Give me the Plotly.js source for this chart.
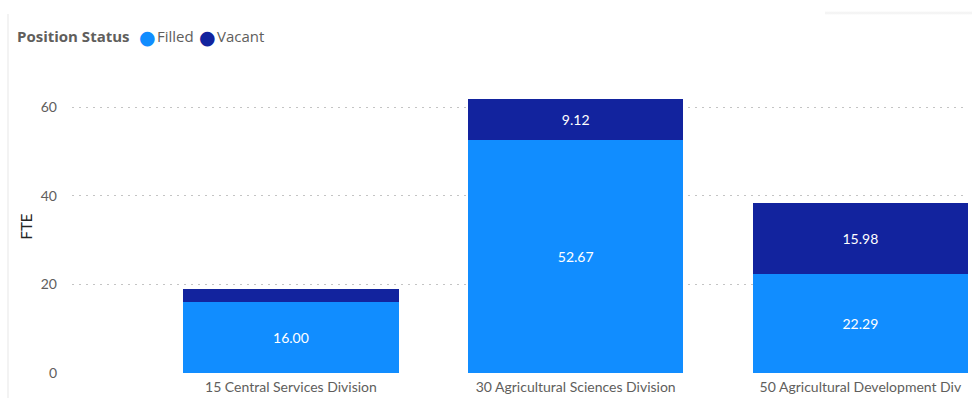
<!DOCTYPE html>
<html>
<head>
<meta charset="utf-8">
<script src="https://cdn.plot.ly/plotly-3.0.1.min.js"></script>
<style>
html,body{margin:0;padding:0;background:#fff;}
#wrap{position:relative;width:972px;height:398px;overflow:hidden;}
#edge{position:absolute;left:7px;top:14px;width:2px;height:384px;background:#f3f3f3;}
#topshadow{position:absolute;left:825px;top:11px;width:147px;height:4px;background:linear-gradient(#ffffff,#f1f1f1,#ffffff);}
#chart{position:absolute;left:0;top:0;width:972px;height:398px;}
</style>
</head>
<body>
<div id="wrap">
<div id="edge"></div>
<div id="topshadow"></div>
<div id="chart"></div>
</div>
<script>
const categories = ["15 Central Services Division", "30 Agricultural Sciences Division", "50 Agricultural Development Division"];
const tickLabels = ["15 Central Services Division", "30 Agricultural Sciences Division", "50 Agricultural Development Div"];
const filled = [16.00, 52.67, 22.29];
const vacant = [2.95, 9.12, 15.98];
const yTicks = [0, 20, 40, 60];
const seriesNames = ["Filled", "Vacant"];
const seriesColors = ["#118DFF", "#12239E"];
const legendTitle = "Position Status";

const FONT = "Segoe UI, Lato, 'Noto Sans', sans-serif";
const LFONT = "'Open Sans', " + FONT;
const fmt = v => v >= 5 ? v.toFixed(2) : "";

const traces = [filled, vacant].map((vals, i) => ({
  type:"bar", name:seriesNames[i], x:categories, y:vals,
  marker:{color:seriesColors[i]},
  text:vals.map(fmt), textposition:"inside", insidetextanchor:"middle",
  textfont:{color:"#ffffff", size:14, family:FONT}, showlegend:false, hoverinfo:"y"
}));

// legend drawn as text annotations (pixel positions converted to paper coords)
const L = 72, W = 896, B = 373, H = 293;
const px = x => (x - L) / W;
const py = y => (B - y) / H;
const legendY = 36;
const itemDotX = [147, 207];
const itemTextX = [155, 215];
const annotations = [{
  text:"<b>" + legendTitle + "</b>", xref:"paper", yref:"paper", x:px(15), y:py(legendY),
  xanchor:"left", yanchor:"middle", showarrow:false,
  font:{family:LFONT, size:15, color:"#605E5C"}
}];
seriesNames.forEach((n, i) => {
  annotations.push({
    text:"●", xref:"paper", yref:"paper", x:px(itemDotX[i]), y:py(legendY + 1),
    xanchor:"center", yanchor:"middle", showarrow:false,
    font:{family:"DejaVu Sans", size:19, color:seriesColors[i]}
  });
  annotations.push({
    text:n, xref:"paper", yref:"paper", x:px(itemTextX[i]), y:py(legendY),
    xanchor:"left", yanchor:"middle", showarrow:false,
    font:{family:LFONT, size:15, color:"#605E5C"}
  });
});

const layout = {
  width:972, height:398,
  margin:{l:L, r:4, t:80, b:25},
  paper_bgcolor:"rgba(0,0,0,0)", plot_bgcolor:"rgba(0,0,0,0)",
  barmode:"stack", bargap:0.243,
  font:{family:FONT, color:"#605E5C", size:13},
  xaxis:{type:"category", tickvals:categories, ticktext:tickLabels,
    range:[-0.769, 2.378], showgrid:false, zeroline:false, showline:false,
    ticks:"", ticklabelstandoff:4, tickfont:{size:14, color:"#605E5C"}, fixedrange:true},
  yaxis:{range:[0, 66.1], tickvals:yTicks, showgrid:true, gridcolor:"#c4c4c4",
    griddash:"2px,5px", gridwidth:1, zeroline:false, showline:false, ticks:"",
    ticklabelstandoff:14, tickfont:{size:14, color:"#605E5C"},
    title:{text:"FTE", font:{size:15, color:"#252423"}, standoff:4}},
  showlegend:false,
  annotations:annotations
};

Plotly.newPlot("chart", traces, layout, {displayModeBar:false, staticPlot:true});
</script>
</body>
</html>
